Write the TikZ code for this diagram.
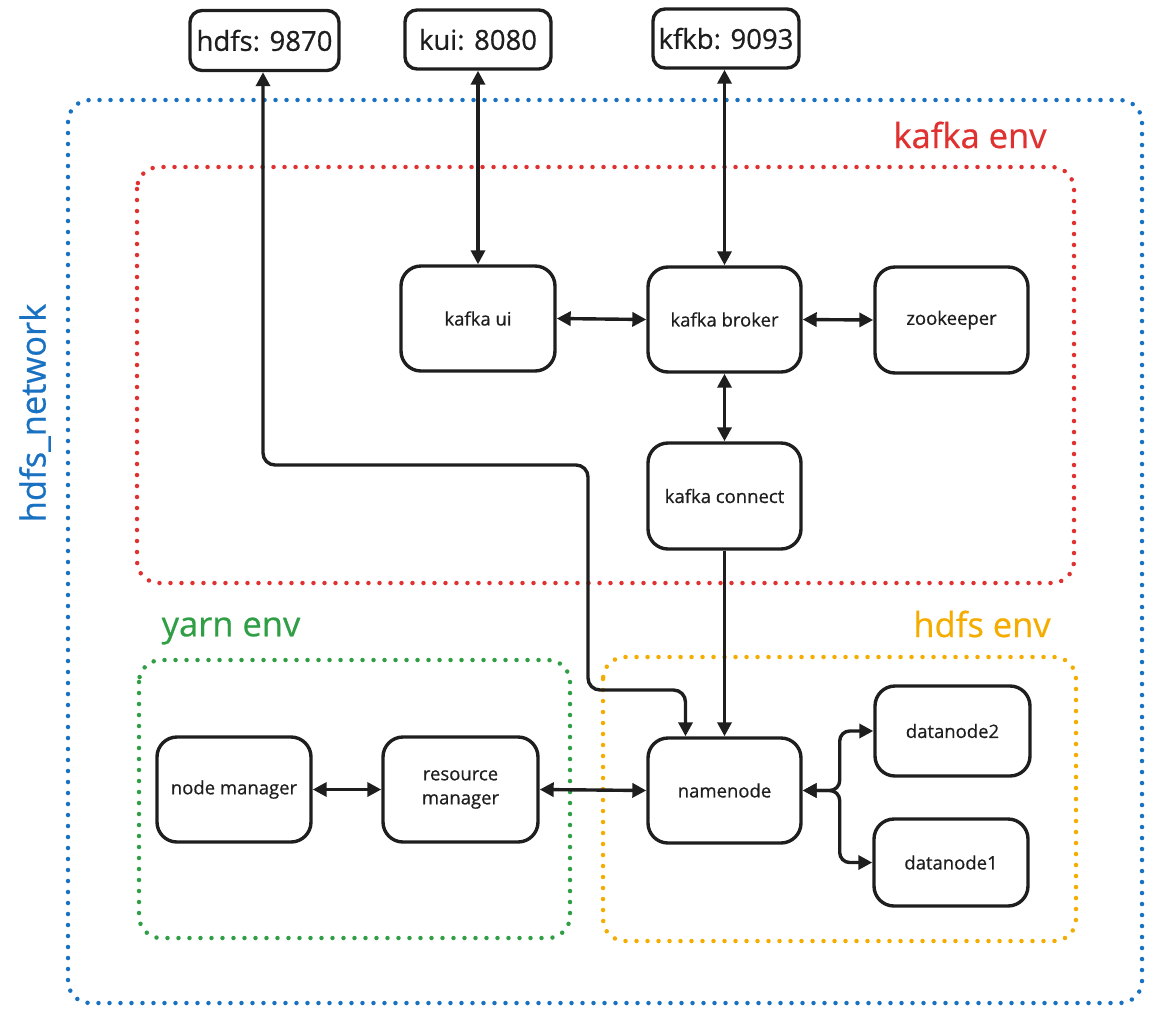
\documentclass[tikz,border=0pt]{standalone}
\usepackage{fontspec}
\setmainfont{Open Sans}[FakeBold=0.6]
\usetikzlibrary{arrows.meta,calc}
\definecolor{ink}{HTML}{1E1E1E}
\definecolor{netblue}{HTML}{1971C2}
\definecolor{kred}{HTML}{E03131}
\definecolor{ygreen}{HTML}{2F9E44}
\definecolor{horange}{HTML}{F5AC00}
\tikzset{
  svc/.style={draw=ink, line width=3.4pt, rounded corners=20pt, minimum width=#1, inner sep=0pt, align=center, text=ink, font=\fontsize{18.5}{24}\selectfont},
  port/.style={draw=ink, line width=3.4pt, rounded corners=12pt, inner sep=0pt, minimum height=60pt, text=ink, font=\fontsize{27.5}{30}\selectfont},
  envbox/.style={line width=4.5pt, line cap=round, dash pattern=on 0pt off 11pt, rounded corners=22pt},
  envlabel/.style={font=\fontsize{34.5}{40}\selectfont},
  conn/.style={draw=ink, line width=3.4pt},
  tip/.tip={Triangle[length=14pt,width=14pt]},
}
\begin{document}
\begin{tikzpicture}[x=1pt,y=-1pt]
\useasboundingbox (0,0) rectangle (1151,1013);
% environments
\draw[envbox, netblue] (68,100) rectangle (1142,1003);
\draw[envbox, kred] (137,167) rectangle (1074,583);
\draw[envbox, ygreen] (139,660) rectangle (570,938);
\draw[envbox, horange] (603,657) rectangle (1076,941);
\node[envlabel, text=kred] (lk) at (970,135) {kafka env};
\node[envlabel, text=ygreen] (ly) at (231,631) {yarn env};
\node[envlabel, text=horange] (lh) at (982,624) {hdfs env};
\node[envlabel, text=netblue, rotate=90] (ln) at (35,413) {hdfs\_network};
% ports
\node[port, minimum width=149pt] (phdfs) at (264.5,40.5) {hdfs: 9870};
\node[port, minimum width=146pt, minimum height=59pt] (pkui) at (478,39.5) {kui: 8080};
\node[port, minimum width=146pt, minimum height=59pt] (pkfkb) at (726,38.5) {kfkb: 9093};
% services
\node[svc=154pt, minimum height=105pt] (kui) at (478,318.5) {kafka ui};
\node[svc=153pt, minimum height=105pt] (kb) at (724.5,319.5) {kafka broker};
\node[svc=153pt, minimum height=106pt] (zk) at (951.5,320) {zookeeper};
\node[svc=153pt, minimum height=106pt] (kc) at (724.5,496) {kafka connect};
\node[svc=154pt, minimum height=105pt] (nm) at (234,789.5) {node manager};
\node[svc=155pt, minimum height=105pt] (rm) at (460.5,789.5) {resource\\manager};
\node[svc=153pt, minimum height=105pt] (nn) at (724.5,790.5) {namenode};
\node[svc=155pt, minimum height=90pt] (dn2) at (952.5,731) {datanode2};
\node[svc=154pt, minimum height=87pt] (dn1) at (951,862.5) {datanode1};
% connectors
\draw[conn, tip-tip] (pkui.south -| kui.north) -- (kui.north);
\draw[conn, tip-tip] (pkfkb.south -| kb.north) -- (kb.north);
\draw[conn, tip-tip] (kui.east) -- (kb.west);
\draw[conn, tip-tip] (kb.east) -- (zk.west);
\draw[conn, tip-tip] (kb.south) -- (kc.north);
\draw[conn, -tip] (kc.south) -- (nn.north);
\draw[conn, tip-tip] (nm.east) -- (rm.west);
\draw[conn, tip-tip] (rm.east) -- (nn.west);
\draw[conn, tip-tip, rounded corners=12pt] ([xshift=-1.5pt]phdfs.south) |- (588,465) -- (588,690) -| ([xshift=-39pt]nn.north);
\draw[conn, tip-tip, rounded corners=10pt] (nn.east) -- ++(37,0) |- (dn2.west);
\draw[conn, tip-tip, rounded corners=10pt] (nn.east) -- ++(37,0) |- (dn1.west);
\end{tikzpicture}
\end{document}
